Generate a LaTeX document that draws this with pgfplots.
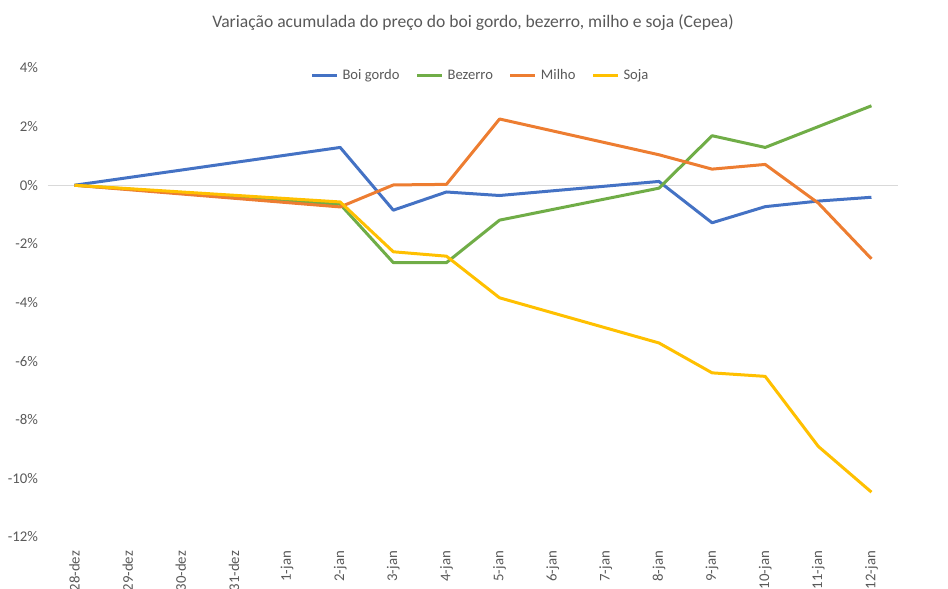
\documentclass[border=0pt]{standalone}
\usepackage{fontspec}
\setmainfont{Carlito}
\usepackage{pgfplots}
\pgfplotsset{compat=1.18}
\definecolor{cBoi}{HTML}{4472C4}
\definecolor{cBez}{HTML}{70AD47}
\definecolor{cMil}{HTML}{ED7D31}
\definecolor{cSoj}{HTML}{FFC000}
\definecolor{txt}{HTML}{595959}
\definecolor{zline}{HTML}{D9D9D9}

\begin{document}
\begin{tikzpicture}
\begin{axis}[
    scale only axis,
    width=425pt, height=234.5pt,
    xmin=-0.5, xmax=15.5,
    ymin=-12, ymax=4,
    axis line style={draw=none},
    major tick length=0pt,
    xtick={0,...,15},
    xticklabels={28-dez,29-dez,30-dez,31-dez,1-jan,2-jan,3-jan,4-jan,5-jan,6-jan,7-jan,8-jan,9-jan,10-jan,11-jan,12-jan},
    xticklabel shift=3.5pt,
    xticklabel style={rotate=90, anchor=east, font=\fontsize{7.4}{8}\selectfont, text=txt},
    ytick={-12,-10,...,4},
    yticklabels={-12\%,-10\%,-8\%,-6\%,-4\%,-2\%,0\%,2\%,4\%},
    yticklabel style={xshift=-1.5pt, font=\fontsize{7.4}{8}\selectfont, text=txt},
    title={Variação acumulada do preço do boi gordo, bezerro, milho e soja (Cepea)},
    title style={at={(0.5,1)}, anchor=center, yshift=16.5pt, font=\fontsize{8.8}{10}\selectfont, text=txt},
    legend columns=4,
    legend style={at={(0.51,1)}, anchor=center, yshift=-4pt, draw=none, fill=none,
        font=\fontsize{7.3}{8}\selectfont, text=txt,
        /tikz/every even column/.append style={column sep=6pt}},
    legend image code/.code={\draw[#1] (0pt,0pt) -- (12.5pt,0pt);},
    every axis plot/.append style={line width=1.5pt, line join=round},
    clip=false,
]
\addplot[zline, line width=0.6pt, forget plot] coordinates {(-0.5,0) (15.5,0)};

\addplot[cBoi] coordinates {
 (0,0) (5,1.29) (6,-0.85) (7,-0.23) (8,-0.35) (11,0.13) (12,-1.28) (13,-0.73) (14,-0.54) (15,-0.41)};
\addlegendentry{Boi gordo}
\addplot[cBez] coordinates {
 (0,0) (5,-0.65) (6,-2.64) (7,-2.64) (8,-1.19) (11,-0.10) (12,1.69) (13,1.29) (14,2.0) (15,2.71)};
\addlegendentry{Bezerro}
\addplot[cMil] coordinates {
 (0,0) (5,-0.74) (6,0.01) (7,0.03) (8,2.26) (11,1.04) (12,0.55) (13,0.71) (14,-0.61) (15,-2.51)};
\addlegendentry{Milho}
\addplot[cSoj] coordinates {
 (0,0) (5,-0.57) (6,-2.27) (7,-2.42) (8,-3.84) (11,-5.38) (12,-6.40) (13,-6.52) (14,-8.91) (15,-10.47)};
\addlegendentry{Soja}

\coordinate (bl) at (rel axis cs:0,0);
\coordinate (tr) at (rel axis cs:1,1);
\end{axis}
\pgfresetboundingbox
\path[use as bounding box] ([shift={(-24pt,-26pt)}]bl) rectangle ([shift={(25pt,34pt)}]tr);
\end{tikzpicture}
\end{document}
